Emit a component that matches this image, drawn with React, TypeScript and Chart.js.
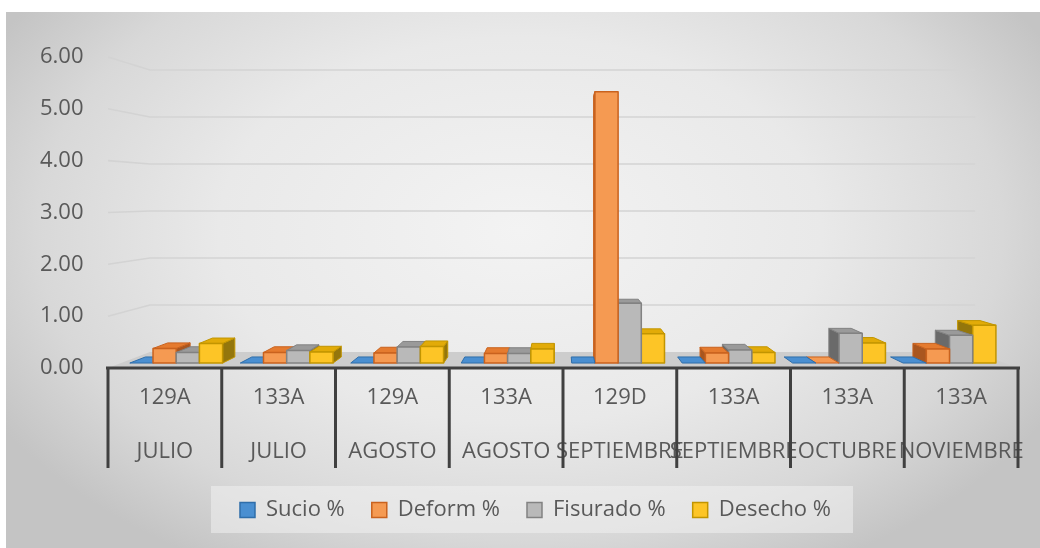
import React, { useEffect, useRef } from 'react';
import { Chart, registerables } from 'chart.js';

Chart.register(...registerables);

// ---- data ----
const codes = ['129A', '133A', '129A', '133A', '129D', '133A', '133A', '133A'];
const months = ['JULIO', 'JULIO', 'AGOSTO', 'AGOSTO', 'SEPTIEMBRE', 'SEPTIEMBRE', 'OCTUBRE', 'NOVIEMBRE'];
const seriesNames = ['Sucio %', 'Deform %', 'Fisurado %', 'Desecho %'];
const sucio = [0, 0, 0, 0, 0, 0, 0, 0];
const deform = [0.29, 0.21, 0.2, 0.19, 5.39, 0.2, 0, 0.28];
const fisurado = [0.21, 0.25, 0.32, 0.19, 1.19, 0.26, 0.59, 0.55];
const desecho = [0.39, 0.22, 0.33, 0.28, 0.58, 0.21, 0.4, 0.75];
const yTicks = [0, 1, 2, 3, 4, 5, 6];

// ---- styles ----
const faces = [
  { front: '#4a8fd1', top: '#3f82c4', side: '#2c619a', edge: '#2f6eaa' },
  { front: '#f59a52', top: '#e57b2f', side: '#a9561f', edge: '#c9621e' },
  { front: '#b9b9b9', top: '#9a9a9a', side: '#6a6a6a', edge: '#828282' },
  { front: '#fdc526', top: '#e2ab08', side: '#94760c', edge: '#c29500' },
];
const TEXT = '#595959';
const FONT = 'Open Sans';
const SHRINK = 0.093; // perspective shrink at back wall
const T1 = 0.31; // bar front depth
const T2 = 0.69; // bar back depth
const VXF = 0.495; // vanishing point (fraction of chart area)
const VYF = 0.447;
const SEP_LEN = 100;

function vp(ca: any) {
  return {
    vx: ca.left + (ca.right - ca.left) * VXF,
    vy: ca.top + (ca.bottom - ca.top) * VYF,
  };
}
function proj(ca: any, x: number, y: number, t: number): [number, number] {
  const { vx, vy } = vp(ca);
  const k = 1 - SHRINK * t;
  return [vx + (x - vx) * k, vy + (y - vy) * k];
}
function poly(ctx: CanvasRenderingContext2D, pts: [number, number][], fill: string, stroke?: string, lw = 1) {
  ctx.beginPath();
  ctx.moveTo(pts[0][0], pts[0][1]);
  for (let i = 1; i < pts.length; i++) ctx.lineTo(pts[i][0], pts[i][1]);
  ctx.closePath();
  ctx.fillStyle = fill;
  ctx.fill();
  if (stroke) {
    ctx.strokeStyle = stroke;
    ctx.lineWidth = lw;
    ctx.lineJoin = 'round';
    ctx.stroke();
  }
}

const threeD = {
  id: 'threeD',
  beforeDraw(chart: any) {
    const { ctx, width, height } = chart;
    ctx.save();
    ctx.fillStyle = '#ffffff';
    ctx.fillRect(0, 0, width, height);
    const cx = width * 0.5;
    const cy = height * 0.42;
    const rx = width * 0.58;
    const sy = 0.64;
    ctx.save();
    ctx.translate(cx, cy);
    ctx.scale(1, sy);
    const g = ctx.createRadialGradient(0, 0, 0, 0, 0, rx);
    g.addColorStop(0, '#f3f3f3');
    g.addColorStop(0.5, '#e9e9e9');
    g.addColorStop(0.8, '#d8d8d8');
    g.addColorStop(1, '#c4c4c4');
    ctx.fillStyle = g;
    ctx.fillRect(6 - cx, (12 - cy) / sy, width - 6, (height - 12) / sy);
    ctx.restore();
    // legend panel
    const hb = chart.legend && chart.legend.legendHitBoxes;
    if (hb && hb.length) {
      const first = hb[0];
      const last = hb[hb.length - 1];
      const l = first.left - 29;
      const r = last.left + last.width + 22;
      const c = first.top + first.height / 2;
      ctx.fillStyle = 'rgba(240,240,240,0.55)';
      ctx.fillRect(l, c - 24, r - l, 47);
    }
    ctx.restore();
  },
  beforeDatasetsDraw(chart: any) {
    const { ctx, chartArea: ca } = chart;
    const ys = chart.scales.y;
    ctx.save();
    // floor
    const fl = ca.left;
    const fr = ca.right;
    const fb = ys.getPixelForValue(0);
    poly(ctx, [proj(ca, fl, fb, 0), proj(ca, fr, fb, 0), proj(ca, fr, fb, 1), proj(ca, fl, fb, 1)], '#cdcdcd');
    // back-wall gridlines
    ctx.strokeStyle = '#d3d3d3';
    ctx.lineWidth = 1.6;
    yTicks.forEach((v) => {
      if (v === 0) return;
      const y = ys.getPixelForValue(v);
      const a = proj(ca, fl, y, 0);
      const b = proj(ca, fl, y, 1);
      const c = proj(ca, fr, y, 1);
      ctx.beginPath();
      ctx.moveTo(a[0], a[1]);
      ctx.lineTo(b[0], b[1]);
      ctx.lineTo(c[0], c[1]);
      ctx.stroke();
    });
    // bars
    const { vx, vy } = vp(ca);
    const bars: any[] = [];
    chart.data.datasets.forEach((ds: any, di: number) => {
      const meta = chart.getDatasetMeta(di);
      if (meta.hidden) return;
      meta.data.forEach((el: any) => {
        bars.push({ di, x: el.x, y: el.y, base: el.base, w: el.width });
      });
    });
    bars.sort((a, b) => Math.abs(b.x - vx) - Math.abs(a.x - vx));
    bars.forEach((b) => {
      const f = faces[b.di];
      const xl = b.x - b.w / 2;
      const xr = b.x + b.w / 2;
      const yt = Math.min(b.y, b.base);
      const yb = Math.max(b.y, b.base);
      const Ftl = proj(ca, xl, yt, T1), Ftr = proj(ca, xr, yt, T1);
      const Fbl = proj(ca, xl, yb, T1), Fbr = proj(ca, xr, yb, T1);
      const Btl = proj(ca, xl, yt, T2), Btr = proj(ca, xr, yt, T2);
      const Bbl = proj(ca, xl, yb, T2), Bbr = proj(ca, xr, yb, T2);
      if (yb - yt > 0.5) {
        if (b.x < vx) poly(ctx, [Ftr, Btr, Bbr, Fbr], f.side, f.edge);
        else poly(ctx, [Ftl, Btl, Bbl, Fbl], f.side, f.edge);
      }
      if (yt > vy) poly(ctx, [Ftl, Ftr, Btr, Btl], yb - yt > 0.5 ? f.top : f.front, f.edge);
      if (yb - yt > 0.5) poly(ctx, [Ftl, Ftr, Fbr, Fbl], f.front, f.edge, 1.5);
    });
    ctx.restore();
    return false;
  },
  afterDraw(chart: any) {
    const { ctx, chartArea: ca } = chart;
    const xs = chart.scales.x;
    ctx.save();
    ctx.strokeStyle = '#404040';
    ctx.lineWidth = 3;
    ctx.beginPath();
    ctx.moveTo(ca.left - 2, ca.bottom);
    ctx.lineTo(ca.right + 2, ca.bottom);
    ctx.stroke();
    const n = codes.length;
    const step = (ca.right - ca.left) / n;
    for (let i = 0; i <= n; i++) {
      const x = i < n ? xs.getPixelForTick(i) - step / 2 : xs.getPixelForTick(n - 1) + step / 2;
      ctx.beginPath();
      ctx.moveTo(x, ca.bottom);
      ctx.lineTo(x, ca.bottom + SEP_LEN);
      ctx.stroke();
    }
    ctx.restore();
  },
};

export default function App() {
  const ref = useRef<HTMLCanvasElement>(null);
  useEffect(() => {
    const values = [sucio, deform, fisurado, desecho];
    const chart = new Chart(ref.current as HTMLCanvasElement, {
      type: 'bar',
      data: {
        labels: codes.map((c, i) => [c, months[i]]),
        datasets: seriesNames.map((name, i) => ({
          label: name,
          data: values[i],
          backgroundColor: faces[i].front,
          borderColor: faces[i].edge,
          borderWidth: 1.5,
          categoryPercentage: 0.84,
          barPercentage: 1,
        })),
      },
      options: {
        responsive: true,
        maintainAspectRatio: false,
        animation: false,
        devicePixelRatio: 1,
        layout: { padding: { left: 53, right: 22, top: 57, bottom: 17 } },
        plugins: {
          legend: {
            position: 'bottom',
            labels: {
              boxWidth: 15,
              boxHeight: 15,
              padding: 27,
              color: TEXT,
              font: { family: FONT, size: 22 },
            },
          },
          tooltip: { enabled: false },
        },
        scales: {
          x: {
            grid: { display: false, drawTicks: false },
            border: { display: false },
            ticks: {
              autoSkip: false,
              maxRotation: 0,
              minRotation: 0,
              padding: 3,
              color: TEXT,
              font: { family: FONT, size: 22, lineHeight: '54px' as any },
            },
            afterFit: (s: any) => {
              s.height = 104;
            },
          },
          y: {
            min: 0,
            max: 6,
            grid: { display: false, drawTicks: false },
            border: { display: false },
            afterBuildTicks: (s: any) => {
              s.ticks = yTicks.map((v) => ({ value: v }));
            },
            ticks: {
              mirror: true,
              crossAlign: 'near',
              padding: -68,
              color: TEXT,
              font: { family: FONT, size: 22 },
              callback: (v: any) => Number(v).toFixed(2),
            },
            afterFit: (s: any) => {
              s.width = 55;
            },
          },
        },
      },
      plugins: [threeD],
    } as any);
    return () => chart.destroy();
  }, []);
  return (
    <div style={{ position: 'fixed', left: 0, top: 0, width: 1040, height: 548 }}>
      <canvas ref={ref} />
    </div>
  );
}
